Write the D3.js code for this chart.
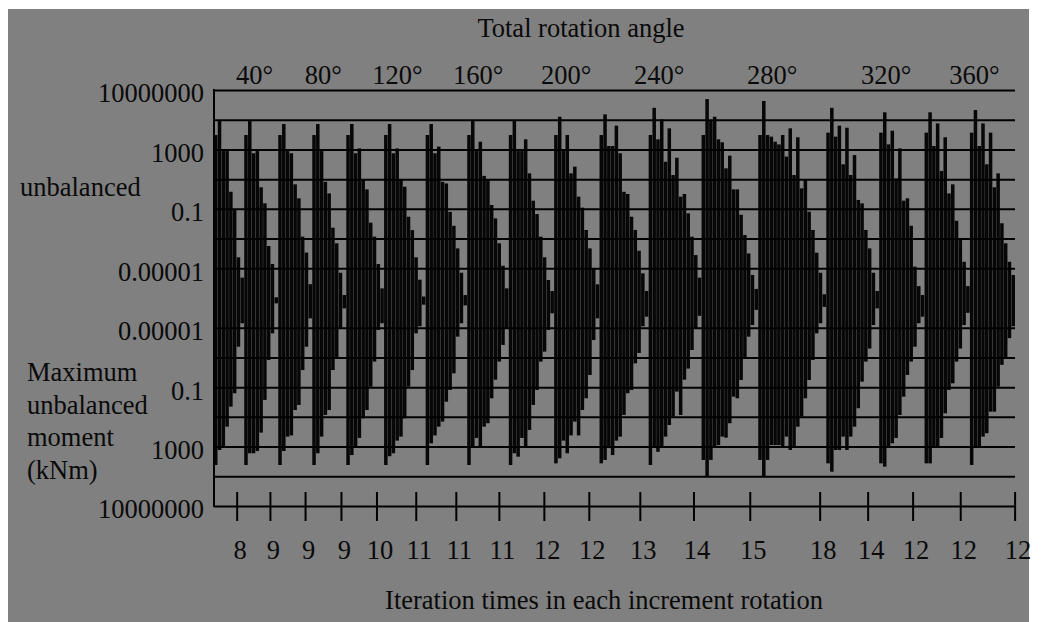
<!DOCTYPE html>
<html>
<head>
<meta charset="utf-8">
<script src="https://cdn.jsdelivr.net/npm/d3@7"></script>
<style>
body { margin: 0; background: #fff; }
text { font-family: "Liberation Serif", "Times New Roman", serif; font-size: 26.5px; fill: #0a0a0a; }
</style>
</head>
<body>
<div id="chart"></div>
<script>
// iterations needed in each 20 degree increment (one bar per iteration)
const iterCounts = [8, 9, 9, 9, 10, 11, 11, 11, 12, 12, 13, 14, 15, 18, 14, 12, 12, 12];
// iteration tick marks, in bars counted from the left edge
const iterTickAt = [6, 14.8, 24.1, 33.6, 43, 53.4, 64, 75.4, 87.3, 99.2, 112.7, 126.9, 141.8, 160.3, 173, 184.9, 197.5, 211.9];

const angleLabels = ["40°", "80°", "120°", "160°", "200°", "240°", "280°", "320°", "360°"];
const angleAt = [10.6, 28.8, 48.4, 69.8, 93.1, 117.7, 147.6, 177.8, 201.1];

const upperTickVals = [1e7, 1e3, 1e-1, 1e-5];
const upperTickText = ["10000000", "1000", "0.1", "0.00001"];
const lowerTickVals = [1e-5, 1e-1, 1e3, 1e7];
const lowerTickText = ["0.00001", "0.1", "1000", "10000000"];
const gridVals = [1e7, 1e5, 1e3, 1e1, 1e-1, 1e-3, 1e-5];

// log10 of the upper (unbalanced) values, one list per increment
const upperLog = [
  [3.97, 4.91, 2.89, 2.89, 0.15, -1.08, -4.26, -5.63],
  [3.97, 4.91, 2.74, 2.89, 0.45, -0.63, -3.5, -4.71, -6.95],
  [3.97, 4.71, 2.89, 2.74, 0.65, -0.29, -2.87, -3.94, -6.07],
  [3.97, 4.71, 2.89, 0.82, 0.04, -2.27, -3.32, -5.3, -6.8],
  [3.97, 4.71, 2.74, 3.07, 0.94, 0.31, -1.93, -2.87, -4.71, -6.35],
  [3.97, 4.71, 2.74, 3.07, 0.94, 0.49, -1.53, -2.43, -4.26, -5.77, -6.9],
  [3.97, 4.71, 2.74, 3.19, 0.82, 0.71, -1.2, -2.14, -3.66, -5.3, -6.8],
  [3.97, 4.91, 2.89, 3.52, 1.22, 0.94, -0.74, -1.64, -3.32, -4.83, -6.35],
  [3.97, 4.91, 2.89, 2.89, 3.68, 1.39, -0.45, -1.35, -2.87, -4.26, -5.79, -6.53],
  [3.97, 5.2, 2.96, 3.97, 1.39, 1.84, -0.18, -0.92, -2.42, -3.66, -5.0, -6.08],
  [3.97, 5.36, 3.23, 3.23, 4.6, 2.74, 0.15, 0.0, -1.53, -2.42, -3.82, -5.34, -6.53],
  [3.97, 5.8, 3.68, 5.02, 2.17, 4.42, 1.28, 2.44, -0.18, 0.0, -1.3, -2.87, -4.11, -5.63],
  [3.97, 6.39, 4.91, 5.2, 3.68, 3.48, 1.73, 2.58, 0.31, 0.31, -1.4, -2.76, -4.0, -5.45, -6.39],
  [3.97, 6.26, 3.97, 3.86, 3.52, 3.34, 3.97, 2.52, 4.42, 1.28, 3.82, 0.38, 0.94, -1.19, -2.42, -3.95, -5.3, -6.75],
  [4.13, 5.8, 3.86, 4.6, 2.0, 4.46, 1.28, 2.62, -0.4, -0.63, -2.42, -3.66, -5.3, -6.53],
  [4.13, 5.5, 3.34, 4.26, 1.05, 3.07, -0.45, -0.29, -2.14, -4.89, -6.2, -6.8],
  [4.13, 5.5, 3.23, 4.75, 1.55, 3.82, 0.04, 0.65, -1.8, -3.1, -4.56, -6.2],
  [4.13, 5.65, 3.23, 4.75, 2.0, 4.13, 0.45, 1.39, -1.97, -3.32, -4.56, -5.45]
];

// log10 of the maximum unbalanced moment (kNm), drawn downwards
const lowerLog = [
  [4.24, 3.23, 3.1, 1.66, 0.31, -0.59, -3.72, -5.3],
  [4.24, 3.45, 3.45, 3.3, 2.06, -0.14, -2.83, -4.62, -6.64],
  [4.24, 3.3, 2.33, 2.25, 0.54, 0.2, -2.15, -3.72, -5.63],
  [4.24, 3.45, 2.33, 0.87, 0.54, -2.15, -2.94, -4.96, -6.3],
  [4.24, 3.57, 2.99, 2.42, 1.1, 0.54, -1.03, -2.72, -4.85, -5.3],
  [4.24, 3.65, 3.45, 2.6, 2.33, 1.1, -1.03, -2.15, -4.62, -5.1, -6.55],
  [4.24, 2.78, 2.25, 1.66, 1.32, -0.02, -0.81, -1.93, -4.4, -5.3, -6.5],
  [4.24, 2.99, 2.42, 2.99, 1.66, 1.43, -0.25, -1.5, -2.72, -3.84, -4.96],
  [4.24, 3.45, 3.68, 2.42, 2.99, 1.88, 0.2, -0.81, -2.72, -3.39, -4.85, -5.97],
  [4.13, 3.79, 2.6, 3.45, 2.25, 1.32, 2.25, 0.54, -0.25, -1.82, -4.17, -5.63],
  [4.13, 3.9, 3.1, 3.57, 2.6, 2.33, 0.87, -0.59, -0.81, -2.6, -3.3, -5.1, -5.74],
  [4.24, 3.0, 3.35, 3.0, 2.33, 1.55, 0.98, -0.7, 0.87, -1.5, -2.25, -3.5, -4.96, -5.8],
  [3.9, 5.02, 3.9, 2.99, 2.9, 2.33, 2.4, 1.43, -0.36, -0.25, -1.48, -2.94, -4.4, -5.18, -6.2],
  [3.9, 5.02, 3.9, 2.9, 2.9, 2.9, 2.99, 2.33, 3.23, 2.99, 1.66, 0.98, -0.25, -1.48, -2.83, -4.62, -5.3, -6.4],
  [4.13, 4.69, 3.23, 3.23, 2.33, 3.23, 2.33, 1.66, 0.42, -1.37, -2.72, -3.6, -5.18, -6.3],
  [4.13, 4.35, 2.99, 2.78, 2.42, 0.87, -0.36, -1.82, -2.72, -3.72, -5.3, -5.74],
  [4.13, 4.13, 2.99, 2.99, 2.42, 0.76, -0.81, -1.26, -2.72, -3.6, -5.18, -6.0],
  [4.24, 2.99, 2.99, 2.33, 2.1, 0.65, 0.65, -1.03, -2.5, -2.94, -4.3, -5.1]
];

const width = 1044, height = 622;
const plotL = 214, plotR = 1015, plotT = 90, plotMid = 298, plotB = 506;

const svg = d3.select("#chart").append("svg").attr("width", width).attr("height", height);
svg.append("rect").attr("x", 8).attr("y", 9).attr("width", 1021).attr("height", 613).attr("fill", "#808080");

const bars = [];
iterCounts.forEach((n, c) => {
  for (let k = 0; k < n; k++) {
    bars.push({ i: bars.length, up: Math.pow(10, upperLog[c][k]), dn: Math.pow(10, lowerLog[c][k]) });
  }
});

const x = d3.scaleBand().domain(bars.map(d => d.i)).range([plotL, plotR]).paddingInner(0.07);
const xPos = d3.scaleLinear().domain([0, bars.length]).range([plotL, plotR]);
const yUp = d3.scaleLog().domain([1e-7, 1e7]).range([plotMid, plotT]);
const yDn = d3.scaleLog().domain([1e-7, 1e7]).range([plotMid, plotB]);

// bars
svg.append("g").selectAll("rect").data(bars).enter().append("rect")
  .attr("x", d => x(d.i)).attr("width", x.bandwidth())
  .attr("y", d => yUp(d.up)).attr("height", d => plotMid - yUp(d.up))
  .attr("fill", "#070707");
svg.append("g").selectAll("rect").data(bars).enter().append("rect")
  .attr("x", d => x(d.i)).attr("width", x.bandwidth())
  .attr("y", plotMid).attr("height", d => yDn(d.dn) - plotMid)
  .attr("fill", "#070707");

// gridlines
function grid(scale) {
  const g = svg.append("g").attr("transform", `translate(${plotL},0)`)
    .call(d3.axisLeft(scale).tickValues(gridVals).tickSize(-(plotR - plotL)).tickFormat(""));
  g.select(".domain").remove();
  g.selectAll(".tick line").attr("stroke", "#000").attr("stroke-width", 2);
}
grid(yUp);
grid(yDn);

svg.append("line").attr("x1", plotL).attr("x2", plotL).attr("y1", plotT - 1).attr("y2", plotB + 1)
  .attr("stroke", "#000").attr("stroke-width", 2);

// value labels
function labels(scale, vals, txt) {
  const g = svg.append("g").attr("transform", `translate(${plotL},0)`)
    .call(d3.axisLeft(scale).tickValues(vals).tickSize(0).tickPadding(10).tickFormat((d, i) => txt[i]));
  g.select(".domain").remove();
  g.selectAll("text").attr("dy", "0.45em");
}
labels(yUp, upperTickVals, upperTickText);
labels(yDn, lowerTickVals, lowerTickText);

// iteration ticks along the bottom
const bx = svg.append("g").attr("transform", "translate(0,492)")
  .call(d3.axisBottom(xPos).tickValues(iterTickAt).tickSize(29).tickPadding(19).tickFormat((d, i) => iterCounts[i]));
bx.select(".domain").remove();
bx.selectAll(".tick line").attr("stroke", "#000").attr("stroke-width", 2);
bx.selectAll("text").attr("dx", 3);

// rotation angle labels along the top
const tx = svg.append("g").attr("transform", `translate(0,${plotT})`)
  .call(d3.axisTop(xPos).tickValues(angleAt).tickSize(0).tickPadding(6).tickFormat((d, i) => angleLabels[i]));
tx.select(".domain").remove();

svg.selectAll("g[font-size]").attr("font-size", null).attr("font-family", null);
svg.selectAll(".tick text").attr("fill", "#0a0a0a");

svg.append("text").attr("x", 581).attr("y", 37).attr("text-anchor", "middle").text("Total rotation angle");
svg.append("text").attr("x", 604).attr("y", 609).attr("text-anchor", "middle").text("Iteration times in each increment rotation");
svg.append("text").attr("x", 20).attr("y", 196).text("unbalanced");
["Maximum", "unbalanced", "moment", "(kNm)"].forEach((t, i) => {
  svg.append("text").attr("x", 27).attr("y", 381 + i * 32.5).text(t);
});
</script>
</body>
</html>
